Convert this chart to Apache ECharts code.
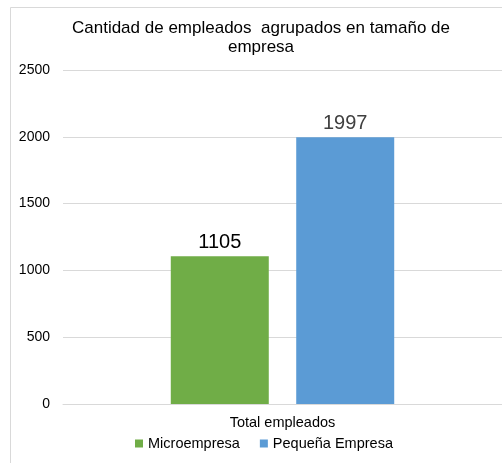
<!DOCTYPE html>
<html>
<head>
<meta charset="utf-8">
<script src="https://cdn.jsdelivr.net/npm/echarts@6/dist/echarts.min.js"></script>
<style>
  html, body { margin: 0; padding: 0; background: #fff; }
  #chart { width: 502px; height: 463px; }
</style>
</head>
<body>
<div id="chart"></div>
<script>
// datos del gráfico
const categorias = ['Total empleados'];
const series = ['Microempresa', 'Pequeña Empresa'];
const microempresa = [1105];
const pequenaEmpresa = [1997];
const colores = ['#70AD47', '#5B9BD5'];

const chart = echarts.init(document.getElementById('chart'), null, { renderer: 'canvas' });

const font = 'Liberation Sans, Arial, sans-serif';

const option = {
  backgroundColor: '#fff',
  animation: false,
  textStyle: { fontFamily: font },
  graphic: [{
    type: 'rect',
    shape: { x: 10.5, y: 7.5, width: 600, height: 600 },
    style: { fill: 'none', stroke: '#d9d9d9', lineWidth: 1 },
    silent: true
  }],
  title: {
    text: 'Cantidad de empleados  agrupados en tamaño de\nempresa',
    left: 256,
    top: 14,
    textAlign: 'center',
    textStyle: { fontFamily: font, fontSize: 17, fontWeight: 'normal', color: '#000', lineHeight: 19 }
  },
  legend: {
    data: series,
    bottom: 7,
    left: 130,
    itemWidth: 8,
    itemHeight: 8,
    itemGap: 20,
    itemTextGap: 3,
    icon: 'rect',
    textStyle: { fontFamily: font, fontSize: 14.5, color: '#000' }
  },
  grid: { left: 63, right: 0, top: 70, bottom: 59, containLabel: false },
  xAxis: {
    type: 'category',
    data: categorias,
    axisLine: { lineStyle: { color: '#d9d9d9' } },
    axisTick: { show: false },
    axisLabel: { fontFamily: font, fontSize: 14.5, color: '#000', margin: 11 }
  },
  yAxis: {
    type: 'value',
    min: 0,
    max: 2500,
    interval: 500,
    axisLine: { show: false },
    axisTick: { show: false },
    splitLine: { lineStyle: { color: '#d9d9d9' } },
    axisLabel: { fontFamily: font, fontSize: 14, color: '#000', margin: 13, formatter: v => String(v) }
  },
  series: [
    {
      name: series[0],
      type: 'bar',
      data: microempresa,
      barWidth: 98,
      barGap: '28%',
      itemStyle: { color: colores[0] },
      label: { show: true, position: 'top', distance: 4, fontFamily: font, fontSize: 20, color: '#000' }
    },
    {
      name: series[1],
      type: 'bar',
      data: pequenaEmpresa,
      barWidth: 98,
      barGap: '28%',
      itemStyle: { color: colores[1] },
      label: { show: true, position: 'top', distance: 4, fontFamily: font, fontSize: 20, color: '#404040' }
    }
  ]
};

chart.setOption(option);
</script>
</body>
</html>
